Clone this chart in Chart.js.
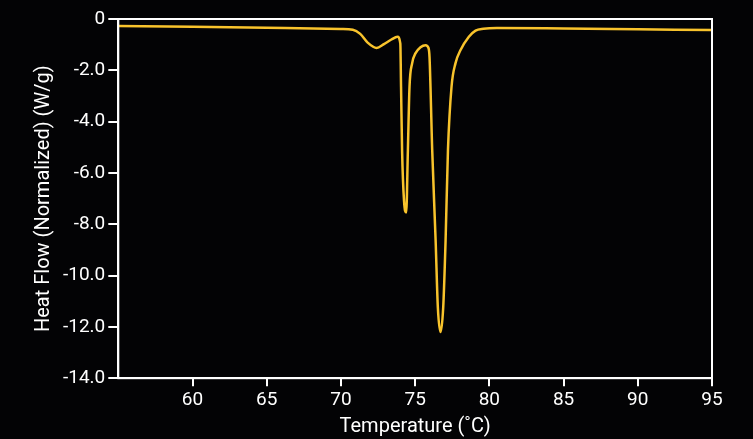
<!DOCTYPE html>
<html>
<head>
<meta charset="utf-8">
<script src="https://cdn.jsdelivr.net/npm/chart.js@4"></script>
<style>
  html, body { margin: 0; padding: 0; background: #030305; }
  #wrap { width: 753px; height: 439px; }
</style>
</head>
<body>
<div id="wrap"><canvas id="dsc"></canvas></div>
<script>
// temperature (°C) and normalized heat flow (W/g)
var temps = [55, 60, 65, 70, 70.8, 71.3, 71.8, 72.4, 72.9, 73.4, 73.81, 74.0, 74.05, 74.12, 74.25, 74.4,
  74.51, 74.62, 74.8, 75.03, 75.36, 75.7, 75.9, 75.97, 76.15, 76.38, 76.53, 76.71, 76.89, 77.05,
  77.21, 77.45, 77.72, 78.06, 78.62, 79.07, 79.6, 80.5, 85, 90, 95];
var heatFlow = [-0.27, -0.30, -0.34, -0.39, -0.42, -0.58, -0.92, -1.13, -0.98, -0.8, -0.69, -0.95, -2.65, -5.12, -7.08, -7.54,
  -5.12, -2.65, -1.72, -1.33, -1.10, -1.02, -1.13, -1.5, -5.12, -8.64, -11.25, -12.2, -11.25, -8.64,
  -5.12, -2.65, -1.72, -1.21, -0.69, -0.45, -0.38, -0.35, -0.37, -0.40, -0.43];
var xTicks = [60, 65, 70, 75, 80, 85, 90, 95];
var yTicks = [0, -2, -4, -6, -8, -10, -12, -14];

var points = temps.map(function (t, i) { return { x: t, y: heatFlow[i] }; });
var font = "Roboto, sans-serif";

// box around the plot area (top and right sides)
var frame = {
  id: "frame",
  afterDraw: function (chart) {
    var a = chart.chartArea, c = chart.ctx;
    c.save();
    c.strokeStyle = "#ffffff";
    c.lineWidth = 2;
    c.strokeRect(a.left, a.top, a.right - a.left, a.bottom - a.top);
    c.restore();
  }
};

new Chart(document.getElementById("dsc").getContext("2d"), {
  type: "line",
  data: {
    datasets: [{
      data: points,
      borderColor: "#f8c32c",
      borderWidth: 2.5,
      pointRadius: 0,
      cubicInterpolationMode: "monotone",
      fill: false
    }]
  },
  options: {
    responsive: true,
    maintainAspectRatio: false,
    animation: false,
    layout: { padding: { top: 19, right: 41, left: 32, bottom: 0 } },
    plugins: { legend: { display: false }, tooltip: { enabled: false } },
    scales: {
      x: {
        type: "linear",
        min: 55,
        max: 95,
        afterBuildTicks: function (axis) {
          axis.ticks = xTicks.map(function (v) { return { value: v }; });
        },
        grid: { drawOnChartArea: false, color: "#ffffff", lineWidth: 2, tickLength: 8 },
        border: { color: "#ffffff", width: 2 },
        ticks: { color: "#ffffff", font: { family: font, size: 19 }, padding: 3, maxRotation: 0 },
        title: { display: true, text: "Temperature (˚C)", color: "#ffffff", font: { family: font, size: 20 }, padding: { top: 0, bottom: 0 } }
      },
      y: {
        min: -14,
        max: 0,
        afterBuildTicks: function (axis) {
          axis.ticks = yTicks.map(function (v) { return { value: v }; });
        },
        grid: { drawOnChartArea: false, color: "#ffffff", lineWidth: 2, tickLength: 10 },
        border: { color: "#ffffff", width: 2 },
        ticks: {
          color: "#ffffff", font: { family: font, size: 19 }, padding: 3,
          callback: function (v) { return v === 0 ? "0" : v.toFixed(1); }
        },
        title: { display: true, text: "Heat Flow (Normalized) (W/g)", color: "#ffffff", font: { family: font, size: 20 }, padding: { top: 0, bottom: 4 } }
      }
    }
  },
  plugins: [frame]
});
</script>
</body>
</html>
